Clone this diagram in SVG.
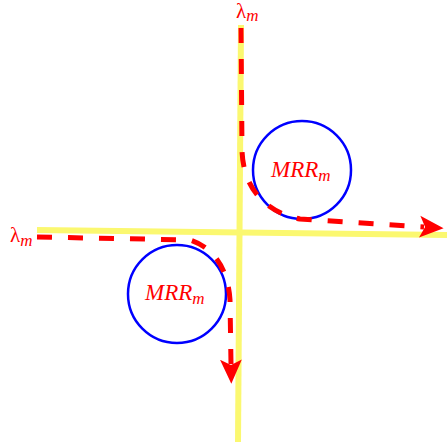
<svg xmlns="http://www.w3.org/2000/svg" width="447" height="446" viewBox="0 0 447 446">
<defs>
<style>
.axis{stroke:#fbf870;stroke-width:6;fill:none}
.wg{stroke:#ff0000;stroke-width:5;fill:none;stroke-dasharray:15 16}
.ring{stroke:#0000ff;stroke-width:2.5;fill:none}
.lbl{fill:#ff0000;font-family:"Liberation Serif",serif;font-style:italic;font-size:23px}
.lam{fill:#ff0000;font-family:"Liberation Serif",serif;font-size:21px}
.sub{font-style:italic;font-size:17px}
</style>
<marker id="arr" markerUnits="userSpaceOnUse" markerWidth="24" markerHeight="24" viewBox="0 0 22 22" refX="4" refY="11" orient="auto">
<path d="M0,1 L22,11 L0,21 L5,11 Z" fill="#ff0000"/>
</marker>
</defs>
<rect width="447" height="446" fill="#ffffff"/>
<g id="axes">
<line class="axis" x1="241" y1="25" x2="238" y2="442"/>
<line class="axis" x1="37" y1="230" x2="447" y2="235"/>
</g>
<g id="ring-upper">
<circle class="ring" cx="302" cy="170" r="49"/>
<text class="lbl" x="271" y="177">MRR<tspan class="sub" dy="4">m</tspan></text>
</g>
<g id="ring-lower">
<circle class="ring" cx="177" cy="294" r="49"/>
<text class="lbl" x="145" y="300">MRR<tspan class="sub" dy="4">m</tspan></text>
</g>
<g id="label-top">
<text class="lam" x="236" y="18">λ<tspan class="sub" dy="3">m</tspan></text>
</g>
<g id="label-left">
<text class="lam" x="10" y="242">λ<tspan class="sub" dy="4">m</tspan></text>
</g>
<g id="connectors">
<path class="wg" d="M241,28 L242,150 C243,188 265,212 300,219 L424,227" marker-end="url(#arr)"/>
<path class="wg" d="M37,237 L190,240 C215,248 228,270 230,300 L231,364" marker-end="url(#arr)"/>
</g>
</svg>
